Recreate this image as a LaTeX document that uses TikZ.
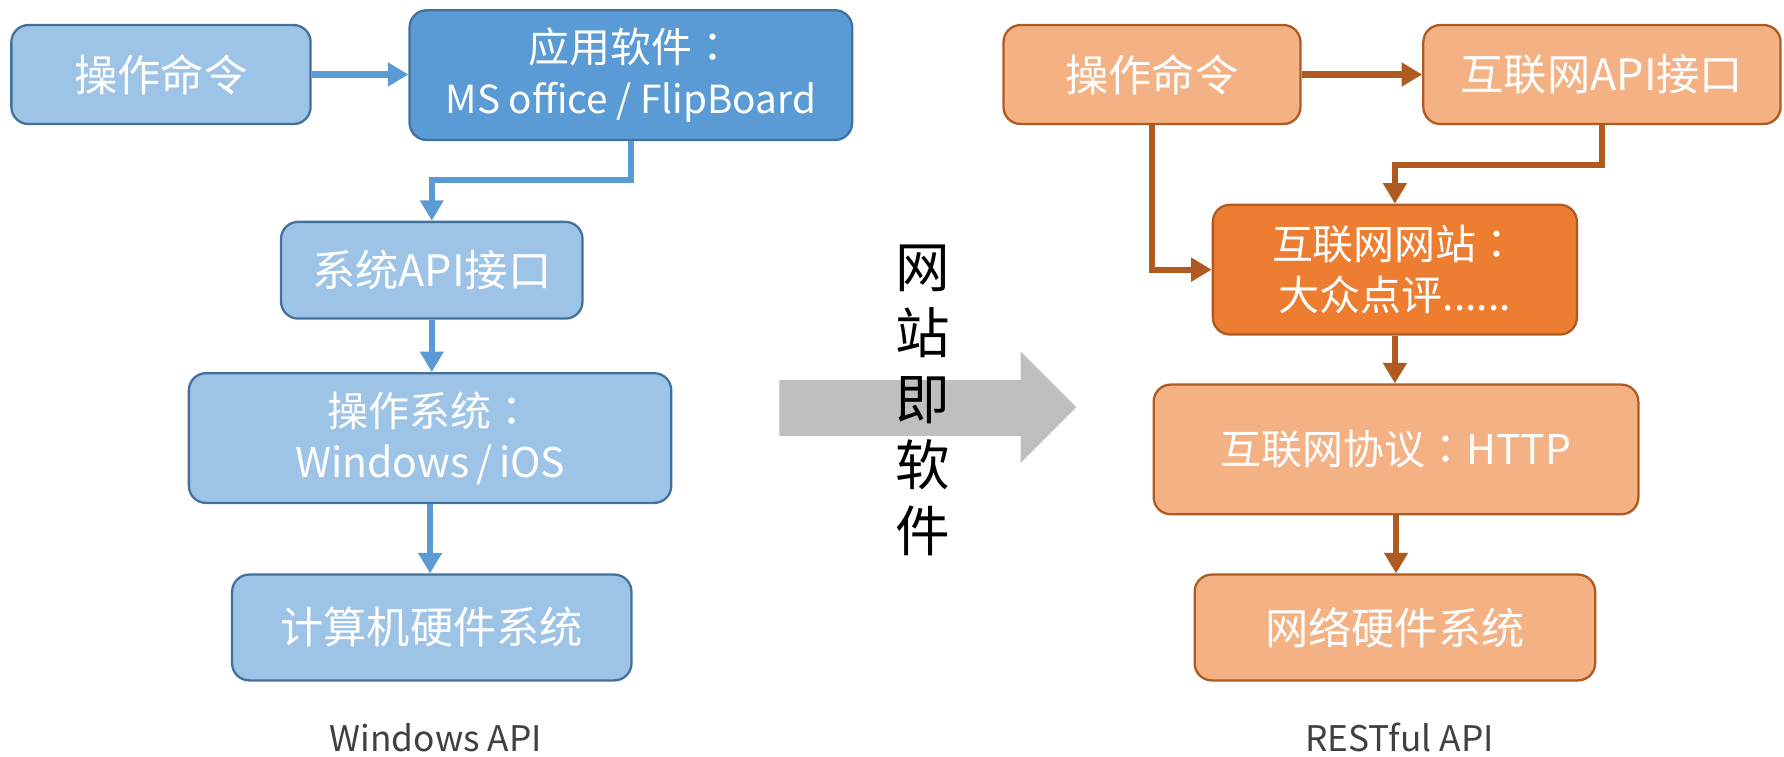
\documentclass[tikz,border=0pt]{standalone}
\usepackage{fontspec}
\setmainfont{Noto Sans CJK SC}
\newfontfamily\tcfont{Noto Sans CJK TC}
\newcommand\fullcolon{{\tcfont ：}}
\usetikzlibrary{arrows.meta}
\definecolor{bluel}{HTML}{9DC3E6}
\definecolor{blued}{HTML}{5B9BD5}
\definecolor{blueb}{HTML}{41719C}
\definecolor{orangel}{HTML}{F4B183}
\definecolor{oranged}{HTML}{ED7D31}
\definecolor{orangeb}{HTML}{AE5A21}
\definecolor{grayarrow}{HTML}{BFBFBF}
\definecolor{labelgray}{HTML}{404040}
\tikzset{
  boxbase/.style={draw, line width=2pt, rounded corners=15pt, text=white, align=center, inner sep=0pt,
    font=\fontsize{38}{45}\selectfont},
  lbox/.style={boxbase, draw=blueb, fill=bluel},
  ldbox/.style={boxbase, draw=blueb, fill=blued},
  rbox/.style={boxbase, draw=orangeb, fill=orangel},
  rdbox/.style={boxbase, draw=orangeb, fill=oranged},
  larr/.style={draw=blued, line width=5.5pt, -{Triangle[length=18pt,width=20pt]}},
  rarr/.style={draw=orangeb, line width=5.5pt, -{Triangle[length=18pt,width=20pt]}},
  caption/.style={text=labelgray, font=\fontsize{31}{36}\selectfont, inner sep=0pt},
}
\begin{document}
\begin{tikzpicture}[x=1pt,y=-1pt]
\path[use as bounding box] (0,0) rectangle (1568,665);
% left column
\node[lbox, minimum width=263pt, minimum height=87pt] (L1) at (141.5,65.5) {操作命令};
\node[ldbox, minimum width=389pt, minimum height=114pt, font=\fontsize{36}{45}\selectfont] (L2) at (554.5,66) {应用软件\fullcolon\\{\fontsize{34}{45}\selectfont MS office / FlipBoard}};
\node[lbox, minimum width=265pt, minimum height=85pt] (L3) at (379.5,237.5) {系统API接口};
\node[lbox, minimum width=424pt, minimum height=114pt, font=\fontsize{36}{45}\selectfont] (L4) at (378,385) {操作系统\fullcolon\\Windows\,/\,iOS};
\node[lbox, minimum width=351pt, minimum height=93pt] (L5) at (379.5,551.5) {计算机硬件系统};
\node[caption] (capL) at (383,648) {Windows API};
\draw[larr] (L1.east) -- (L1.east -| L2.west);
\draw[larr] (L2.south) -- ++(0,34) -| (L3.north);
\draw[larr] (L3.south) -- (L3.south |- L4.north);
\draw[larr] (L4.south) -- (L4.south |- L5.north);
% middle arrow
\fill[grayarrow] (685,334) -- (897,334) -- (897,309) -- (946,358) -- (897,407) -- (897,383) -- (685,383) -- cycle;
\node[align=center, font=\fontsize{48}{58}\selectfont, text=black] (mid) at (811,352) {网\\站\\即\\软\\件};
% right column
\node[rbox, minimum width=261pt, minimum height=87pt] (R1) at (1012.5,65.5) {操作命令};
\node[rbox, minimum width=314pt, minimum height=87pt] (R2) at (1408,65.5) {互联网API接口};
\node[rdbox, minimum width=320pt, minimum height=114pt, font=\fontsize{36}{45}\selectfont] (R3) at (1226,237) {互联网网站\fullcolon\\大众点评......};
\node[rbox, minimum width=426pt, minimum height=114pt, font=\fontsize{36}{45}\selectfont] (R4) at (1227,395) {互联网协议\fullcolon HTTP};
\node[rbox, minimum width=352pt, minimum height=93pt] (R5) at (1226,551.5) {网络硬件系统};
\node[caption] (capR) at (1230,648) {RESTful API};
\draw[rarr] (R1.east) -- (R1.east -| R2.west);
\draw[rarr] (R1.south) |- (R3.west);
\draw[rarr] (R2.south) -- ++(0,35) -| (R3.north);
\draw[rarr] (R3.south) -- (R3.south |- R4.north);
\draw[rarr] (R4.south) -- (R4.south |- R5.north);
\end{tikzpicture}
\end{document}
